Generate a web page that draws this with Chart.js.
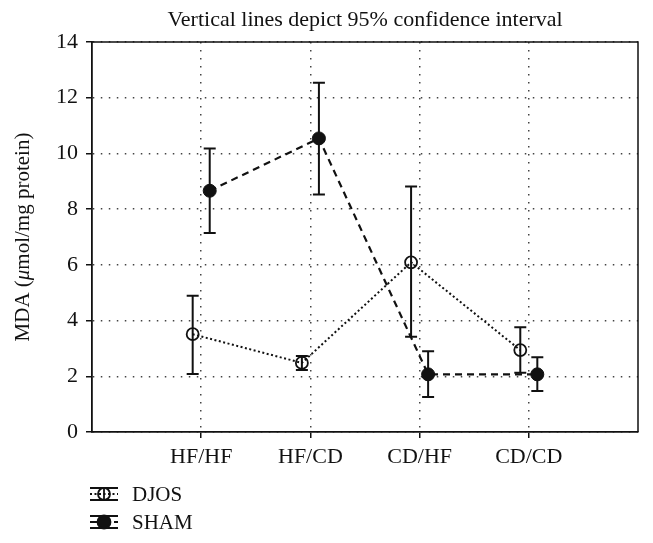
<!DOCTYPE html>
<html>
<head>
<meta charset="utf-8">
<script src="https://cdn.jsdelivr.net/npm/chart.js@4.4.0/dist/chart.umd.min.js"></script>
<style>
  html, body { margin: 0; padding: 0; background: #fff; }
</style>
</head>
<body>
<canvas id="c" width="653" height="543"></canvas>
<script>
// data
const groups = ['HF/HF', 'HF/CD', 'CD/HF', 'CD/CD'];
const yTicks = [0, 2, 4, 6, 8, 10, 12, 14];

const djosMean = [3.51, 2.48, 6.09, 2.94];
const djosLow  = [2.08, 2.23, 3.42, 2.13];
const djosHigh = [4.89, 2.73, 8.81, 3.76];

const shamMean = [8.66, 10.54, 2.07, 2.07];
const shamLow  = [7.14, 8.53, 1.26, 1.47];
const shamHigh = [10.18, 12.54, 2.90, 2.68];

const SERIF = '"Liberation Serif", "DejaVu Serif", serif';
const INK = '#111';
const dodge = 0.078; // series are shifted a little left/right of the category

function toPoints(mean, lo, hi, shift) {
    return mean.map((v, i) => ({ x: i + 1 + shift, y: v, lo: lo[i], hi: hi[i] }));
}

// error bars, drawn under the markers
const errorBars = {
    id: 'errorBars',
    beforeDatasetsDraw(chart) {
        const ctx = chart.ctx;
        const yScale = chart.scales.y;
        ctx.save();
        ctx.strokeStyle = INK;
        ctx.lineWidth = 2;
        chart.data.datasets.forEach((ds, di) => {
            const meta = chart.getDatasetMeta(di);
            meta.data.forEach((pt, i) => {
                const raw = ds.data[i];
                const yLo = yScale.getPixelForValue(raw.lo);
                const yHi = yScale.getPixelForValue(raw.hi);
                const x = pt.x;
                ctx.beginPath();
                ctx.moveTo(x, yLo); ctx.lineTo(x, yHi);
                ctx.moveTo(x - 6, yLo); ctx.lineTo(x + 6, yLo);
                ctx.moveTo(x - 6, yHi); ctx.lineTo(x + 6, yHi);
                ctx.stroke();
            });
        });
        ctx.restore();
    }
};

// box, title, y title and legend
const decor = {
    id: 'decor',
    afterDraw(chart) {
        const ctx = chart.ctx;
        const a = chart.chartArea;
        ctx.save();
        ctx.strokeStyle = INK;
        ctx.lineWidth = 1.5;
        ctx.beginPath();
        ctx.moveTo(a.left, a.top); ctx.lineTo(a.right, a.top); ctx.lineTo(a.right, a.bottom);
        ctx.stroke();

        ctx.fillStyle = INK;
        ctx.textBaseline = 'middle';
        ctx.textAlign = 'center';
        ctx.font = '22px ' + SERIF;
        ctx.fillText('Vertical lines depict 95% confidence interval', (a.left + a.right) / 2, 20);

        // y title with italic mu
        const parts = [['MDA (', ''], ['\u03bc', 'italic '], ['mol/mg protein)', '']];
        let total = 0;
        parts.forEach(p => { ctx.font = p[1] + '21px ' + SERIF; total += ctx.measureText(p[0]).width; });
        ctx.translate(23, (a.top + a.bottom) / 2);
        ctx.rotate(-Math.PI / 2);
        ctx.textAlign = 'left';
        let x = -total / 2;
        parts.forEach(p => {
            ctx.font = p[1] + '21px ' + SERIF;
            ctx.fillText(p[0], x, 0);
            x += ctx.measureText(p[0]).width;
        });
        ctx.setTransform(1, 0, 0, 1, 0, 0);

        // legend
        chart.data.datasets.forEach((ds, i) => {
            const cx = 104, cy = 494 + i * 28;
            ctx.strokeStyle = INK;
            ctx.lineWidth = 1.8;
            ctx.setLineDash([]);
            ctx.beginPath();
            ctx.moveTo(cx - 14, cy - 6); ctx.lineTo(cx + 14, cy - 6);
            ctx.moveTo(cx - 14, cy + 6); ctx.lineTo(cx + 14, cy + 6);
            ctx.moveTo(cx, cy - 6); ctx.lineTo(cx, cy + 6);
            ctx.stroke();
            ctx.setLineDash(ds.borderDash);
            ctx.beginPath();
            ctx.moveTo(cx - 14, cy); ctx.lineTo(cx + 14, cy);
            ctx.stroke();
            ctx.setLineDash([]);
            ctx.beginPath();
            ctx.arc(cx, cy, ds.pointRadius, 0, Math.PI * 2);
            if (ds.pointBackgroundColor === INK) { ctx.fillStyle = INK; ctx.fill(); }
            ctx.stroke();
            ctx.fillStyle = INK;
            ctx.font = '21px ' + SERIF;
            ctx.textAlign = 'left';
            ctx.fillText(ds.label, 132, cy + 1);
        });
        ctx.restore();
    }
};

new Chart(document.getElementById('c'), {
    type: 'line',
    data: {
        datasets: [
            {
                label: 'DJOS',
                data: toPoints(djosMean, djosLow, djosHigh, -dodge),
                borderColor: INK, borderWidth: 2, borderDash: [2, 2.5],
                pointRadius: 6, pointBorderWidth: 1.8,
                pointBackgroundColor: 'rgba(0,0,0,0)', pointBorderColor: INK
            },
            {
                label: 'SHAM',
                data: toPoints(shamMean, shamLow, shamHigh, dodge),
                borderColor: INK, borderWidth: 2.2, borderDash: [7, 5],
                pointRadius: 6.5, pointBorderWidth: 1,
                pointBackgroundColor: INK, pointBorderColor: INK
            }
        ]
    },
    options: {
        responsive: false,
        animation: false,
        events: [],
        layout: { padding: { top: 42, right: 15, left: 0, bottom: 0 } },
        plugins: { legend: { display: false }, tooltip: { enabled: false } },
        scales: {
            x: {
                type: 'linear', min: 0, max: groups.length + 1,
                afterBuildTicks: s => { s.ticks = groups.map((g, i) => ({ value: i + 1 })); },
                afterFit: s => { s.height = 111; },
                ticks: {
                    autoSkip: false, maxRotation: 0, padding: 6,
                    color: INK, font: { family: SERIF, size: 22 },
                    callback: v => groups[v - 1]
                },
                grid: { color: '#444', lineWidth: 1.5, tickColor: INK, tickLength: 6, tickWidth: 1.5 },
                border: { color: INK, width: 1.8, dash: [1.5, 6.5] }
            },
            y: {
                min: 0, max: 14,
                afterBuildTicks: s => { s.ticks = yTicks.map(v => ({ value: v })); },
                afterFit: s => { s.width = 92; },
                ticks: { padding: 8, color: INK, font: { family: SERIF, size: 22 } },
                grid: { color: '#444', lineWidth: 1.5, tickColor: INK, tickLength: 6, tickWidth: 1.5 },
                border: { color: INK, width: 1.8, dash: [1.5, 6.5] }
            }
        }
    },
    plugins: [errorBars, decor]
});
</script>
</body>
</html>
